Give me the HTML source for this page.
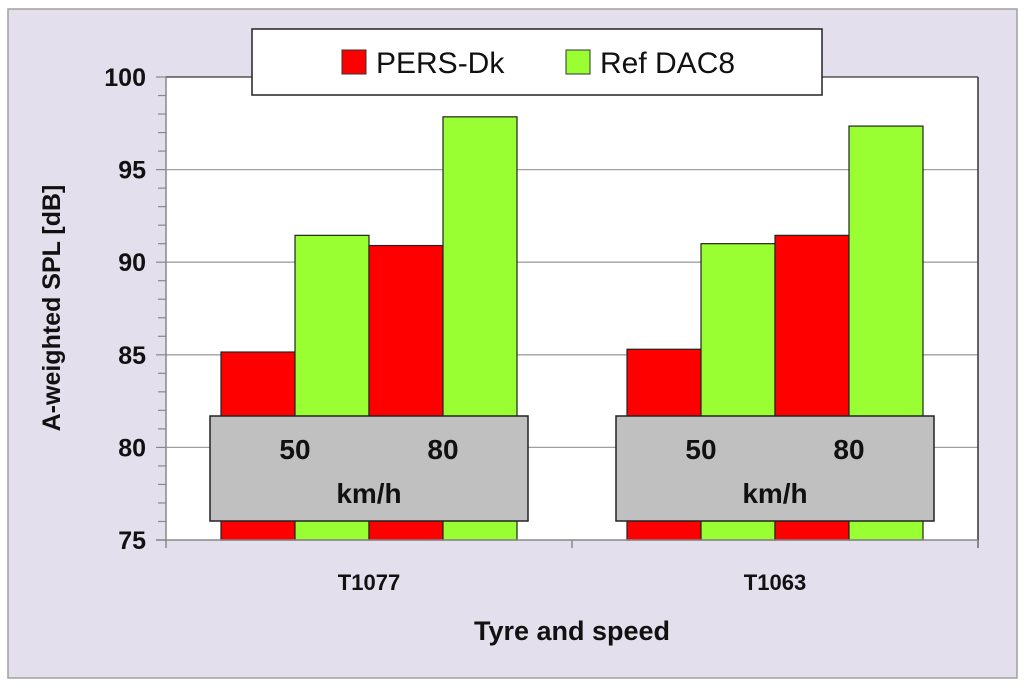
<!DOCTYPE html>
<html><head><meta charset="utf-8"><style>
body{margin:0;background:#fff;}
svg{display:block;font-family:"Liberation Sans",Calibri,sans-serif;}
</style></head><body>
<svg id="chart" width="1024" height="689">
<rect x="8" y="9" width="1009" height="669" fill="#e4dfec" stroke="#a0a0a0" stroke-width="1.5"/>
<rect x="166" y="77" width="812" height="463" fill="#fff"/>
<g id="grid"></g>
<g id="bars"></g>
<g id="axes"></g>
<g id="overlays"></g>
<text x="60" y="308" transform="rotate(-90 60 308)" text-anchor="middle" font-size="25" font-weight="bold" fill="#111">A-weighted SPL [dB]</text>
<text x="572" y="640" text-anchor="middle" font-size="27" font-weight="bold" fill="#111">Tyre and speed</text>
<g>
<rect x="252" y="29" width="570" height="66" fill="#fff" stroke="#222" stroke-width="1.5"/>
<g>
<rect x="342" y="50" width="24" height="24" fill="#ff0000" stroke="#333"/>
<text x="376" y="73" font-size="30" fill="#111">PERS-Dk</text></g>
<g>
<rect x="566" y="50" width="24" height="24" fill="#99ff33" stroke="#333"/>
<text x="600" y="73" font-size="30" fill="#111">Ref DAC8</text></g>
</g>
</svg>
<script>
const categories=["T1077","T1063"];
const speeds=["50","80"];
const persDk=[[85.15,90.9],[85.3,91.45]];
const refDac8=[[91.45,97.85],[91.0,97.35]];
const yTicks=[75,80,85,90,95,100];
const NS="http://www.w3.org/2000/svg";
const L=166,R=978,T=77,B=540,ymin=75,ymax=100;
const y=v=>B-(v-ymin)/(ymax-ymin)*(B-T);
const gw=(R-L)/categories.length;
const bw=74;
function mk(tag,a,parent){const e=document.createElementNS(NS,tag);for(const k in a)e.setAttribute(k,a[k]);document.getElementById(parent).appendChild(e);return e;}
yTicks.forEach(t=>{
 if(t>ymin){const g=mk('line',{x1:L,x2:R,y1:y(t),y2:y(t),stroke:t==ymax?'#333':'#a0a0a0','stroke-width':1.3},'grid');
 
 }
 const tx=mk('text',{x:146,y:y(t)+9,'text-anchor':'end','font-size':25,'font-weight':'bold',fill:'#111'},'axes');
 tx.textContent=t;
 
 
});
for(let v=ymin;v<=ymax;v++){const tk=mk('line',{x1:v%5==0?156:158,x2:L,y1:y(v),y2:y(v),stroke:'#888','stroke-width':1.2},'axes');
 
 }
mk('line',{x1:L,x2:L,y1:T,y2:B,stroke:'#888','stroke-width':1.5},'axes');
mk('line',{x1:R,x2:R,y1:T,y2:B+8,stroke:'#333','stroke-width':1.5},'axes');
mk('line',{x1:L-10,x2:R,y1:B,y2:B,stroke:'#888','stroke-width':1.5},'axes');
for(let i=0;i<=categories.length;i++){mk('line',{x1:L+i*gw,x2:L+i*gw,y1:B,y2:B+8,stroke:'#888','stroke-width':1.5},'axes');}
categories.forEach((c,i)=>{
 const cx=L+gw*(i+0.5);
 const x0=cx-2*bw;
 speeds.forEach((s,j)=>{
  const xr=x0+j*2*bw;
  const r=mk('rect',{x:xr,y:y(persDk[i][j]),width:bw,height:B-y(persDk[i][j]),fill:'#ff0000',stroke:'#222','stroke-width':1.2},'bars');
  
  
  const g=mk('rect',{x:xr+bw,y:y(refDac8[i][j]),width:bw,height:B-y(refDac8[i][j]),fill:'#99ff33',stroke:'#222','stroke-width':1.2},'bars');
  
  
 });
 const box=mk('rect',{x:x0-11,y:416,width:4*bw+22,height:105,fill:'#c0c0c0',stroke:'#222','stroke-width':1.5},'overlays');
 
 
 speeds.forEach((s,j)=>{
  const t=mk('text',{x:x0+bw+j*2*bw,y:459,'text-anchor':'middle','font-size':28,'font-weight':'bold',fill:'#111'},'overlays');
  t.textContent=s;
  
  
 });
 const u=mk('text',{x:cx,y:503,'text-anchor':'middle','font-size':28,'font-weight':'bold',fill:'#111'},'overlays');
 u.textContent='km/h';
 
 
 const xl=mk('text',{x:cx,y:590,'text-anchor':'middle','font-size':22,'font-weight':'bold',fill:'#111'},'axes');
 xl.textContent=c;
 
 
});
</script>
</body></html>
